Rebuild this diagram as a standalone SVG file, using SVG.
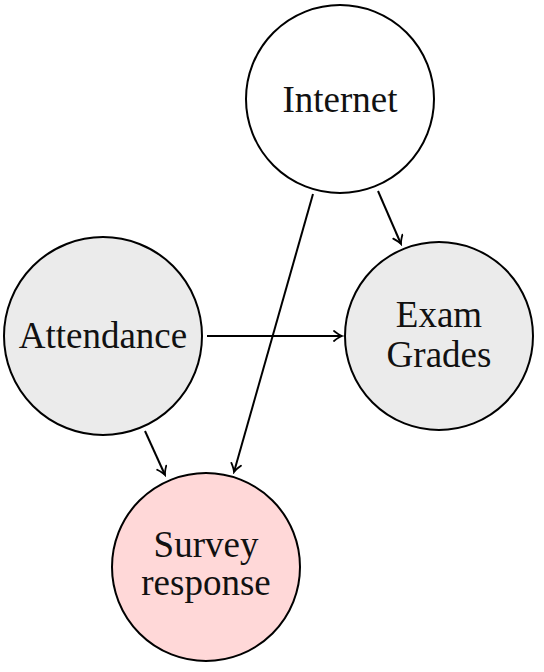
<svg xmlns="http://www.w3.org/2000/svg" width="544" height="672" viewBox="0 0 544 672">
<defs>
<style>
.node{stroke:#000;stroke-width:2}
.lbl{font-family:"Liberation Serif","DejaVu Serif",serif;font-size:37px;fill:#111;text-anchor:middle}
.edge{stroke:#000;stroke-width:2;fill:none;marker-end:url(#arr)}
</style>
<marker id="arr" viewBox="-10 -6 12 12" markerWidth="12" markerHeight="12" refX="0" refY="0" orient="auto" markerUnits="userSpaceOnUse">
<path d="M-8,-5 Q-3,-1 0,0 Q-3,1 -8,5" fill="none" stroke="#000" stroke-width="1.8" stroke-linecap="round"/>
</marker>
</defs>
<rect width="544" height="672" fill="#fff"/>
<g id="connectors">
<line class="edge" x1="378" y1="191" x2="401" y2="244"/>
<line class="edge" x1="313" y1="194" x2="234" y2="472"/>
<line class="edge" x1="207" y1="336" x2="342" y2="336"/>
<line class="edge" x1="145" y1="431" x2="165" y2="475"/>
</g>
<g id="internet">
<circle class="node" cx="340" cy="99" r="94" fill="#fff"/>
<text class="lbl" x="340" y="112">Internet</text>
</g>
<g id="attendance">
<circle class="node" cx="103" cy="336" r="99" fill="#ebebeb"/>
<text class="lbl" x="103" y="348">Attendance</text>
</g>
<g id="exam-grades">
<circle class="node" cx="439" cy="336" r="94" fill="#ebebeb"/>
<text class="lbl" x="439" y="327">Exam</text>
<text class="lbl" x="439" y="367">Grades</text>
</g>
<g id="survey-response">
<circle class="node" cx="206" cy="567" r="94" fill="#ffd8d8"/>
<text class="lbl" x="206" y="557">Survey</text>
<text class="lbl" x="206" y="595">response</text>
</g>
</svg>
